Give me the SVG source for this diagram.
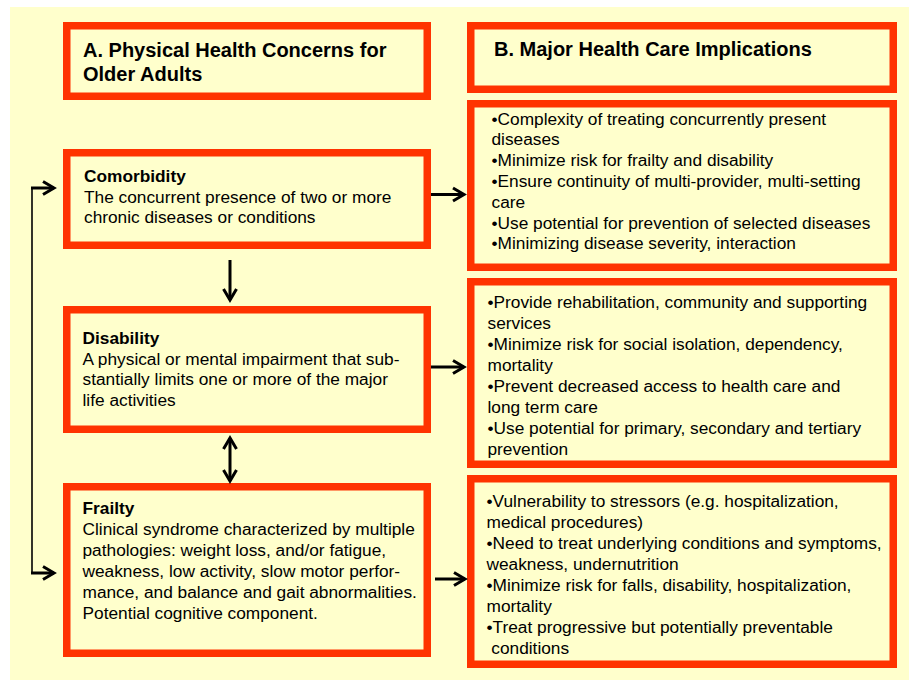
<svg xmlns="http://www.w3.org/2000/svg" width="909" height="680" viewBox="0 0 909 680">
<style>
.box{fill:#FFFFCC;stroke:#FF3300;stroke-width:7.5}
.t{font-family:"Liberation Sans",Arial,sans-serif;font-size:17.3px;fill:#000}
.h{font-family:"Liberation Sans",Arial,sans-serif;font-size:20px;font-weight:bold;fill:#000}
.b{font-weight:bold}
.c{fill:none;stroke:#000;stroke-width:3}
.thin{fill:none;stroke:#000;stroke-width:1.6}
</style>
<defs>
<marker id="ah" viewBox="-14 -9 17 18" refX="0" refY="0" markerWidth="17" markerHeight="18" markerUnits="userSpaceOnUse" orient="auto-start-reverse">
<path d="M-11,-6.5 L0,0 L-11,6.5" fill="none" stroke="#000" stroke-width="3"/>
</marker>
</defs>
<rect x="10" y="7" width="899" height="673" fill="#FFFFCC"/>

<g id="headerA">
<rect class="box" x="66.75" y="25.75" width="360.5" height="70.5"/>
<text class="h" x="83" y="57">A. Physical Health Concerns for</text>
<text class="h" x="83" y="81">Older Adults</text>
</g>

<g id="headerB">
<rect class="box" x="470.75" y="25.75" width="422.5" height="63.5"/>
<text class="h" x="494" y="56">B. Major Health Care Implications</text>
</g>

<g id="comorbidity">
<rect class="box" x="66.75" y="152.75" width="360.5" height="92.5"/>
<text class="t" x="84"><tspan class="b" x="84" y="182">Comorbidity</tspan><tspan x="84" y="202.5">The concurrent presence of two or more</tspan><tspan x="84" y="223">chronic diseases or conditions</tspan></text>
</g>

<g id="disability">
<rect class="box" x="66.75" y="309.75" width="360.5" height="119.5"/>
<text class="t" x="82.5"><tspan class="b" x="82.5" y="344">Disability</tspan><tspan x="82.5" y="364.5">A physical or mental impairment that sub-</tspan><tspan x="82.5" y="385">stantially limits one or more of the major</tspan><tspan x="82.5" y="405.5">life activities</tspan></text>
</g>

<g id="frailty">
<rect class="box" x="66.75" y="486.75" width="360.5" height="166.5"/>
<text class="t" x="82.5"><tspan class="b" x="82.5" y="514">Frailty</tspan><tspan x="82.5" y="535">Clinical syndrome characterized by multiple</tspan><tspan x="82.5" y="556">pathologies: weight loss, and/or fatigue,</tspan><tspan x="82.5" y="577">weakness, low activity, slow motor perfor-</tspan><tspan x="82.5" y="598">mance, and balance and gait abnormalities.</tspan><tspan x="82.5" y="619">Potential cognitive component.</tspan></text>
</g>

<g id="implications1">
<rect class="box" x="470.75" y="103.75" width="422.5" height="163.5"/>
<text class="t"><tspan x="491.5" y="124.5">•Complexity of treating concurrently present</tspan><tspan x="491.5" y="145.3">diseases</tspan><tspan x="491.5" y="166">•Minimize risk for frailty and disability</tspan><tspan x="491.5" y="187">•Ensure continuity of multi-provider, multi-setting</tspan><tspan x="491.5" y="207.7">care</tspan><tspan x="491.5" y="228.5">•Use potential for prevention of selected diseases</tspan><tspan x="491.5" y="249.3">•Minimizing disease severity, interaction</tspan></text>
</g>

<g id="implications2">
<rect class="box" x="470.75" y="281.75" width="422.5" height="182.5"/>
<text class="t"><tspan x="487.5" y="308.3">•Provide rehabilitation, community and supporting</tspan><tspan x="487.5" y="329">services</tspan><tspan x="487.5" y="350.3">•Minimize risk for social isolation, dependency,</tspan><tspan x="487.5" y="371">mortality</tspan><tspan x="487.5" y="392.3">•Prevent decreased access to health care and</tspan><tspan x="487.5" y="413">long term care</tspan><tspan x="487.5" y="434.3">•Use potential for primary, secondary and tertiary</tspan><tspan x="487.5" y="455">prevention</tspan></text>
</g>

<g id="implications3">
<rect class="box" x="470.75" y="478.75" width="422.5" height="185.5"/>
<text class="t"><tspan x="486.5" y="507">•Vulnerability to stressors (e.g. hospitalization,</tspan><tspan x="486.5" y="528">medical procedures)</tspan><tspan x="486.5" y="549">•Need to treat underlying conditions and symptoms,</tspan><tspan x="486.5" y="570">weakness, undernutrition</tspan><tspan x="486.5" y="591">•Minimize risk for falls, disability, hospitalization,</tspan><tspan x="486.5" y="612">mortality</tspan><tspan x="486.5" y="633">•Treat progressive but potentially preventable</tspan><tspan x="486.5" y="654"> conditions</tspan></text>
</g>

<g id="connectors">
<path class="c" d="M431,194.5 H464" marker-end="url(#ah)"/>
<path class="c" d="M431,367 H464" marker-end="url(#ah)"/>
<path class="c" d="M435,579 H465" marker-end="url(#ah)"/>
<path class="c" d="M230,260 V300" marker-end="url(#ah)"/>
<path class="c" d="M230,438 V481" marker-start="url(#ah)" marker-end="url(#ah)"/>
<path class="thin" d="M32,188 V573"/>
<path class="c" d="M31,188 H54" marker-end="url(#ah)"/>
<path class="c" d="M31,573 H54" marker-end="url(#ah)"/>
</g>
</svg>
